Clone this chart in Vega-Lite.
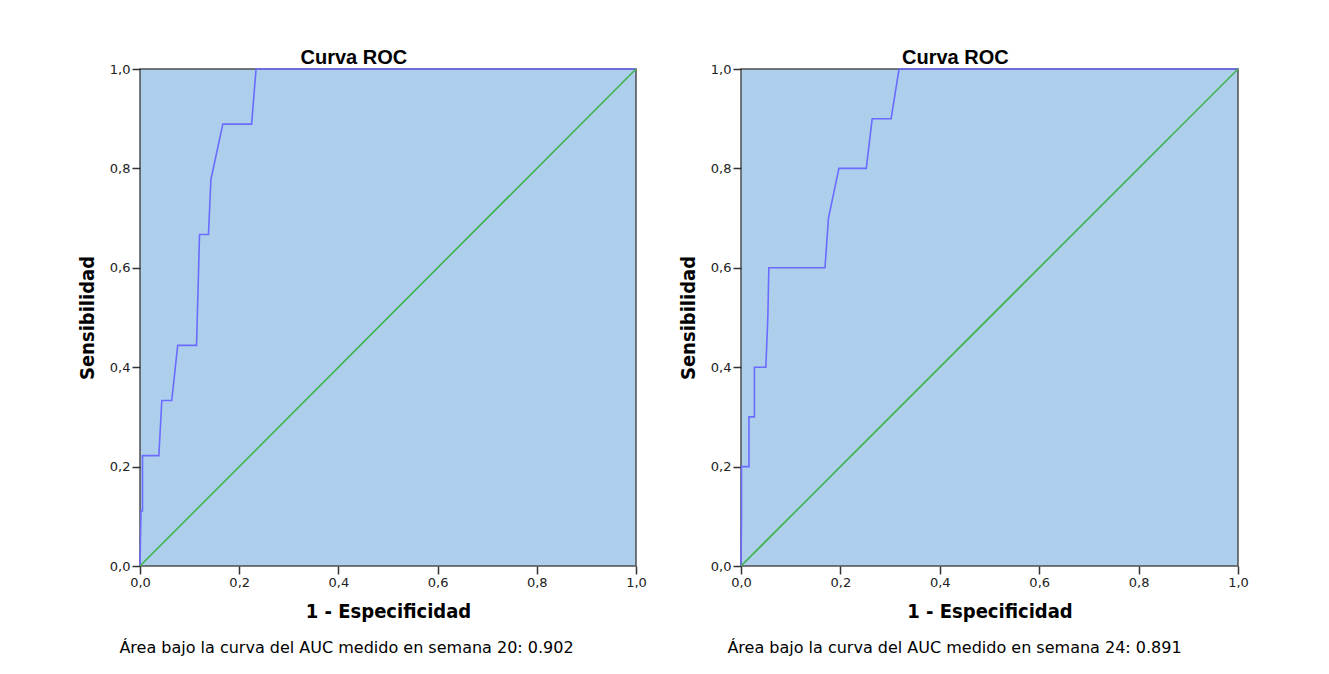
{
  "$schema": "https://vega.github.io/schema/vega-lite/v6.json",
  "background": "white",
  "padding": {"left": 76, "top": 47, "right": 0, "bottom": 0},
  "spacing": 29,
  "datasets": {
    "roc20": [
      {"i": 0, "fpr": 0, "tpr": 0},
      {"i": 1, "fpr": 0.002, "tpr": 0.111},
      {"i": 2, "fpr": 0.005, "tpr": 0.111},
      {"i": 3, "fpr": 0.005, "tpr": 0.222},
      {"i": 4, "fpr": 0.038, "tpr": 0.222},
      {"i": 5, "fpr": 0.044, "tpr": 0.333},
      {"i": 6, "fpr": 0.064, "tpr": 0.333},
      {"i": 7, "fpr": 0.076, "tpr": 0.444},
      {"i": 8, "fpr": 0.114, "tpr": 0.444},
      {"i": 9, "fpr": 0.12, "tpr": 0.667},
      {"i": 10, "fpr": 0.138, "tpr": 0.667},
      {"i": 11, "fpr": 0.143, "tpr": 0.778},
      {"i": 12, "fpr": 0.167, "tpr": 0.889},
      {"i": 13, "fpr": 0.225, "tpr": 0.889},
      {"i": 14, "fpr": 0.234, "tpr": 1.0},
      {"i": 15, "fpr": 1.0, "tpr": 1.0}
    ],
    "roc24": [
      {"i": 0, "fpr": 0, "tpr": 0},
      {"i": 1, "fpr": 0.001, "tpr": 0.1},
      {"i": 2, "fpr": 0.001, "tpr": 0.2},
      {"i": 3, "fpr": 0.016, "tpr": 0.2},
      {"i": 4, "fpr": 0.016, "tpr": 0.3},
      {"i": 5, "fpr": 0.027, "tpr": 0.3},
      {"i": 6, "fpr": 0.027, "tpr": 0.4},
      {"i": 7, "fpr": 0.05, "tpr": 0.4},
      {"i": 8, "fpr": 0.054, "tpr": 0.5},
      {"i": 9, "fpr": 0.056, "tpr": 0.6},
      {"i": 10, "fpr": 0.169, "tpr": 0.6},
      {"i": 11, "fpr": 0.176, "tpr": 0.7},
      {"i": 12, "fpr": 0.197, "tpr": 0.8},
      {"i": 13, "fpr": 0.252, "tpr": 0.8},
      {"i": 14, "fpr": 0.264, "tpr": 0.9},
      {"i": 15, "fpr": 0.302, "tpr": 0.9},
      {"i": 16, "fpr": 0.318, "tpr": 1.0},
      {"i": 17, "fpr": 1.0, "tpr": 1.0}
    ],
    "diag": [
      {"i": 0, "fpr": 0, "tpr": 0},
      {"i": 1, "fpr": 1, "tpr": 1}
    ]
  },
  "hconcat": [
    {
      "width": 496,
      "height": 497,
      "title": {"text": "Curva ROC"},
      "layer": [
        {
          "data": {"name": "roc20"},
          "mark": {"type": "line", "color": "#6B6BFF", "strokeWidth": 1.6},
          "encoding": {
            "x": {"field": "fpr", "type": "quantitative", "scale": {"domain": [0, 1], "nice": false},
                  "axis": {"title": "1 - Especificidad", "orient": "bottom", "titlePadding": 12, "values": [0, 0.2, 0.4, 0.6, 0.8, 1]}},
            "y": {"field": "tpr", "type": "quantitative", "scale": {"domain": [0, 1], "nice": false},
                  "axis": {"title": "Sensibilidad", "titlePadding": 12, "values": [0, 0.2, 0.4, 0.6, 0.8, 1]}},
            "order": {"field": "i", "type": "quantitative"}
          }
        },
        {
          "data": {"name": "diag"},
          "mark": {"type": "line", "color": "#3DB34A", "strokeWidth": 1.6},
          "encoding": {
            "x": {"field": "fpr", "type": "quantitative",
                  "axis": {"title": "Área bajo la curva del AUC medido en semana 20: 0.902", "orient": "bottom",
                           "labels": false, "ticks": false, "domain": false, "offset": 59, "titlePadding": 14,
                           "titleFontWeight": "normal", "titleFontSize": 16, "titleFont": "DejaVu Sans",
                           "titleX": 206, "titleAlign": "center"}},
            "y": {"field": "tpr", "type": "quantitative",
                  "axis": {"title": "Sensibilidad", "titlePadding": 12, "values": [0, 0.2, 0.4, 0.6, 0.8, 1]}},
            "order": {"field": "i", "type": "quantitative"}
          }
        }
      ],
      "resolve": {"axis": {"x": "independent"}}
    },
    {
      "width": 497,
      "height": 497,
      "title": {"text": "Curva ROC"},
      "layer": [
        {
          "data": {"name": "roc24"},
          "mark": {"type": "line", "color": "#6B6BFF", "strokeWidth": 1.6},
          "encoding": {
            "x": {"field": "fpr", "type": "quantitative", "scale": {"domain": [0, 1], "nice": false},
                  "axis": {"title": "1 - Especificidad", "orient": "bottom", "titlePadding": 12, "values": [0, 0.2, 0.4, 0.6, 0.8, 1]}},
            "y": {"field": "tpr", "type": "quantitative", "scale": {"domain": [0, 1], "nice": false},
                  "axis": {"title": "Sensibilidad", "titlePadding": 12, "values": [0, 0.2, 0.4, 0.6, 0.8, 1]}},
            "order": {"field": "i", "type": "quantitative"}
          }
        },
        {
          "data": {"name": "diag"},
          "mark": {"type": "line", "color": "#3DB34A", "strokeWidth": 1.6},
          "encoding": {
            "x": {"field": "fpr", "type": "quantitative",
                  "axis": {"title": "Área bajo la curva del AUC medido en semana 24: 0.891", "orient": "bottom",
                           "labels": false, "ticks": false, "domain": false, "offset": 59, "titlePadding": 14,
                           "titleFontWeight": "normal", "titleFontSize": 16, "titleFont": "DejaVu Sans",
                           "titleX": 213, "titleAlign": "center"}},
            "y": {"field": "tpr", "type": "quantitative",
                  "axis": {"title": "Sensibilidad", "titlePadding": 12, "values": [0, 0.2, 0.4, 0.6, 0.8, 1]}},
            "order": {"field": "i", "type": "quantitative"}
          }
        }
      ],
      "resolve": {"axis": {"x": "independent"}}
    }
  ],
  "config": {
    "view": {"fill": "#AECFEC", "stroke": "#4d4d4d", "strokeWidth": 1.5},
    "axis": {
      "domain": false,
      "grid": false,
      "ticks": true,
      "tickColor": "#333333",
      "tickSize": 8,
      "tickWidth": 1.5,
      "labelFont": "DejaVu Sans",
      "labelFontSize": 13,
      "labelColor": "#222222",
      "labelPadding": 2,
      "labelFlush": false,
      "titleFont": "DejaVu Sans Condensed, DejaVu Sans",
      "titleFontSize": 20,
      "titleFontWeight": "bold",
      "titleColor": "#000000",
      "labelExpr": "replace(format(datum.value, '.1f'), '.', ',')"
    },
    "title": {"font": "Liberation Sans", "fontSize": 20, "fontWeight": "bold", "color": "#000000", "offset": -5, "dx": -8, "frame": "bounds"}
  }
}
